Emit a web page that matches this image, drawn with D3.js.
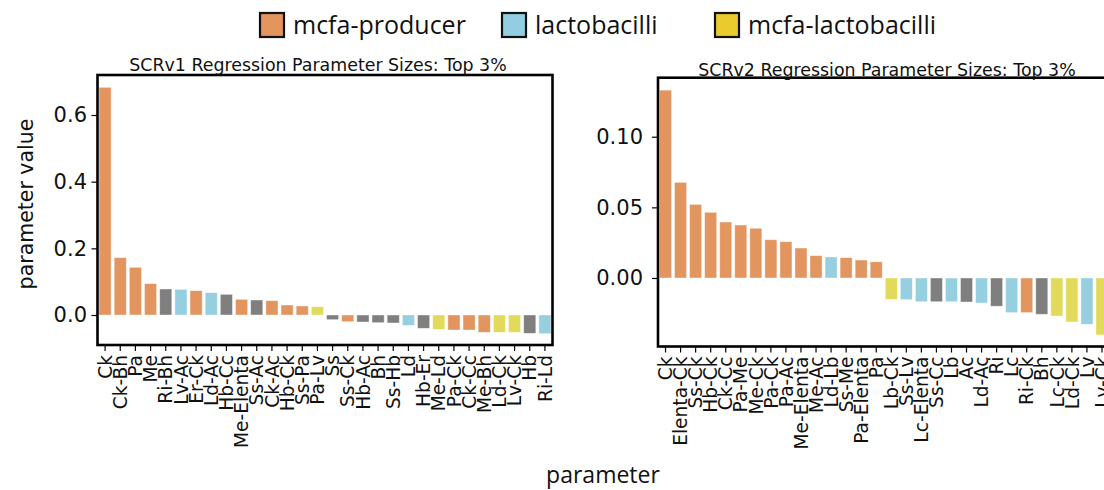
<!DOCTYPE html>
<html>
<head>
<meta charset="utf-8">
<script src="https://cdn.jsdelivr.net/npm/d3@7"></script>
<style>
  body { margin: 0; background: #fff; }
  svg { display: block; }
</style>
</head>
<body>
<svg id="chart" width="1104" height="490"></svg>
<script>
// Group codes: p = mcfa-producer, l = lactobacilli, m = mcfa-lactobacilli, o = other
const legendLabels = ["mcfa-producer", "lactobacilli", "mcfa-lactobacilli"];
const legendFill = ["#e3955d", "#93cde0", "#e9cb2e"];
const groupCodes = ["p", "l", "m", "o"];
const barFill = ["#e2955e", "#96cfe0", "#e1da5a", "#7f7f7f"];

// SCRv1 parameters
const v1Params = ["Ck", "Ck-Bh", "Pa", "Me", "Ri-Bh", "Lv-Ac", "Er-Ck", "Ld-Ac", "Hb-Cc", "Me-Elenta",
  "Ss-Ac", "Ck-Ac", "Hb-Ck", "Ss-Pa", "Pa-Lv", "Ss", "Ss-Ck", "Hb-Ac", "Bh", "Ss-Hb",
  "Ld", "Hb-Er", "Me-Ld", "Pa-Ck", "Ck-Cc", "Me-Bh", "Ld-Ck", "Lv-Ck", "Hb", "Ri-Ld"];
const v1Values = [0.683, 0.172, 0.143, 0.094, 0.078, 0.077, 0.073, 0.067, 0.062, 0.047,
  0.045, 0.043, 0.030, 0.027, 0.025, -0.014, -0.020, -0.021, -0.023, -0.024,
  -0.031, -0.040, -0.043, -0.045, -0.045, -0.052, -0.052, -0.052, -0.055, -0.056];
const v1Groups = ["p", "p", "p", "p", "o", "l", "p", "l", "o", "p",
  "o", "p", "p", "p", "m", "o", "p", "o", "o", "o",
  "l", "o", "m", "p", "p", "p", "m", "m", "o", "l"];
const v1Ticks = [0.0, 0.2, 0.4, 0.6];

// SCRv2 parameters
const v2Params = ["Ck", "Elenta-Ck", "Ss-Ck", "Hb-Ck", "Ck-Cc", "Pa-Me", "Me-Ck", "Pa-Ck", "Pa-Ac", "Me-Elenta",
  "Me-Ac", "Ld-Lb", "Ss-Me", "Pa-Elenta", "Pa", "Lb-Ck", "Ss-Lv", "Lc-Elenta", "Ss-Cc", "Lb",
  "Ac", "Ld-Ac", "Ri", "Lc", "Ri-Ck", "Bh", "Lc-Ck", "Ld-Ck", "Lv", "Lv-Ck"];
const v2Values = [0.1330, 0.0677, 0.0521, 0.0465, 0.0396, 0.0375, 0.0352, 0.0271, 0.0257, 0.0212,
  0.0158, 0.0149, 0.0144, 0.0127, 0.0115, -0.0151, -0.0153, -0.0168, -0.0168, -0.0168,
  -0.0170, -0.0177, -0.0200, -0.0245, -0.0245, -0.0257, -0.0269, -0.0311, -0.0328, -0.0403];
const v2Groups = ["p", "p", "p", "p", "p", "p", "p", "p", "p", "p",
  "p", "l", "p", "p", "p", "m", "l", "l", "o", "l",
  "o", "l", "o", "l", "p", "o", "m", "m", "l", "m"];
const v2Ticks = [0.00, 0.05, 0.10];

const svg = d3.select("#chart");
const colorOf = d3.scaleOrdinal().domain(groupCodes).range(barFill);

function drawPanel(cfg) {
  const g = svg.append("g").attr("transform", `translate(${cfg.left},${cfg.top})`);
  const x = d3.scaleBand().domain(cfg.params).range([0, cfg.width])
    .paddingInner(0.2).paddingOuter(0.1);
  const y = d3.scaleLinear().domain(cfg.yDomain).range([cfg.height, 0]);

  g.selectAll("rect.bar")
    .data(cfg.params.map((p, i) => ({ p, v: cfg.values[i], grp: cfg.groups[i] })))
    .join("rect")
    .attr("class", "bar")
    .attr("x", d => x(d.p))
    .attr("width", x.bandwidth())
    .attr("y", d => y(Math.max(0, d.v)))
    .attr("height", d => Math.abs(y(d.v) - y(0)))
    .attr("fill", d => colorOf(d.grp))
    .attr("stroke", "#fff")
    .attr("stroke-opacity", 0.5)
    .attr("stroke-width", 0.8);

  // y axis
  const ya = g.append("g").call(d3.axisLeft(y).tickValues(cfg.ticks)
      .tickFormat(d3.format(cfg.fmt)).tickSize(6).tickPadding(cfg.yPad));
  ya.select(".domain").remove();
  ya.selectAll(".tick line").attr("stroke", "#000").attr("stroke-width", 1.2);
  ya.selectAll("text").attr("font-family", "DejaVu Sans").attr("font-size", 21).attr("fill", "#111");

  // x axis
  const xa = g.append("g").attr("transform", `translate(0,${cfg.height})`)
    .call(d3.axisBottom(x).tickSize(6).tickPadding(4));
  xa.select(".domain").remove();
  xa.selectAll(".tick line").attr("stroke", "#000").attr("stroke-width", 1.2);
  xa.selectAll("text")
    .attr("font-family", "DejaVu Sans").attr("font-size", 18.6).attr("fill", "#111")
    .attr("transform", "rotate(-90)")
    .attr("text-anchor", "end")
    .attr("x", -10).attr("y", 0).attr("dy", "0.36em");

  // frame
  g.append("rect").attr("x", 0).attr("y", 0).attr("width", cfg.width).attr("height", cfg.height)
    .attr("fill", "none").attr("stroke", "#000").attr("stroke-width", 2.6);

  // title
  svg.append("text").attr("x", cfg.titleX).attr("y", cfg.titleY)
    .attr("text-anchor", "middle").attr("font-family", "DejaVu Sans")
    .attr("font-size", 17.4).attr("fill", "#111").text(cfg.title);
}

drawPanel({
  left: 97.5, top: 75, width: 455, height: 270,
  params: v1Params, values: v1Values, groups: v1Groups,
  yDomain: [-0.09, 0.72], ticks: v1Ticks, fmt: ".1f", yPad: 4.5,
  title: "SCRv1 Regression Parameter Sizes: Top 3%", titleX: 318, titleY: 71
});

drawPanel({
  left: 658, top: 77.7, width: 451.5, height: 268.8,
  params: v2Params, values: v2Values, groups: v2Groups,
  yDomain: [-0.0485, 0.1418], ticks: v2Ticks, fmt: ".2f", yPad: 9,
  title: "SCRv2 Regression Parameter Sizes: Top 3%", titleX: 887, titleY: 75.5
});

// y axis label
svg.append("text").attr("transform", "translate(33,204) rotate(-90)")
  .attr("text-anchor", "middle").attr("font-family", "DejaVu Sans")
  .attr("font-size", 20.5).attr("fill", "#111").text("parameter value");

// x axis label
svg.append("text").attr("x", 603).attr("y", 483)
  .attr("text-anchor", "middle").attr("font-family", "Open Sans")
  .attr("font-size", 23).attr("fill", "#111").text("parameter");

// legend
const legendX = [260, 502, 715];
const leg = svg.append("g");
legendLabels.forEach((lab, i) => {
  leg.append("rect").attr("x", legendX[i]).attr("y", 13).attr("width", 24).attr("height", 24)
    .attr("fill", legendFill[i]).attr("stroke", "#111").attr("stroke-width", 2.2);
  leg.append("text").attr("x", legendX[i] + 33).attr("y", 33.5)
    .attr("font-family", "Open Sans").attr("font-size", 25).attr("fill", "#111").text(lab);
});
</script>
</body>
</html>
